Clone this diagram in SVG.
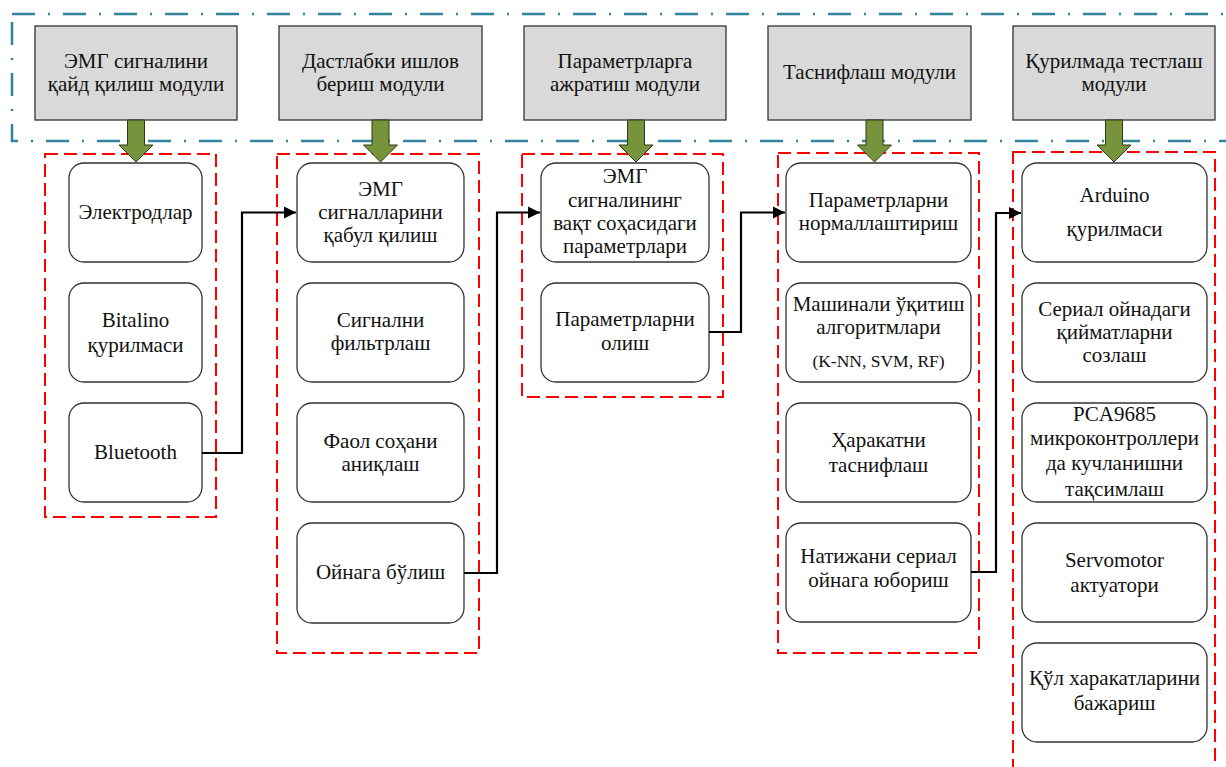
<svg xmlns="http://www.w3.org/2000/svg" width="1226" height="767" viewBox="0 0 1226 767">
<style>
text{font-family:'Liberation Serif','DejaVu Serif','Noto Serif',serif;font-size:21px;fill:#111;text-anchor:middle}
.small{font-size:17.5px}
.top rect{fill:#d9d9d9;stroke:#333;stroke-width:1.3}
.node rect{fill:#fff;stroke:#333;stroke-width:1.3}
.grp{fill:none;stroke:#ff0000;stroke-width:2;stroke-dasharray:13 6}
.arr{fill:#77933c;stroke:#2e3b17;stroke-width:1}
.conn{fill:none;stroke:#000;stroke-width:2.2}
</style>
<defs>
<marker id="ah" viewBox="0 0 10 10" refX="10" refY="5" markerWidth="5.5" markerHeight="5.5" markerUnits="strokeWidth" orient="auto">
<path d="M0,0L10,5L0,10z" fill="#000"/>
</marker>
</defs>
<rect x="0" y="0" width="1226" height="767" fill="#fff"/>
<rect x="12" y="14" width="1240" height="127" fill="none" stroke="#31849b" stroke-width="2.5" stroke-dasharray="23 13 2 13"/>

<g id="groups">
<rect class="grp" x="45" y="154" width="171" height="363"/>
<rect class="grp" x="277" y="154" width="202" height="499"/>
<rect class="grp" x="522" y="154" width="201" height="243"/>
<rect class="grp" x="778" y="153" width="201" height="500"/>
<rect class="grp" x="1013" y="152" width="202" height="640"/>
</g>

<g font-family="Liberation Serif, DejaVu Serif, serif">
<g id="top1" class="top"><rect x="35" y="26" width="202" height="94"/><text x="136" y="68">ЭМГ сигналини</text><text x="136" y="91">қайд қилиш модули</text></g>
<g id="top2" class="top"><rect x="279" y="26" width="203" height="94"/><text x="380.5" y="68">Дастлабки ишлов</text><text x="380.5" y="91">бериш модули</text></g>
<g id="top3" class="top"><rect x="524" y="26" width="202" height="94"/><text x="625" y="68">Параметрларга</text><text x="625" y="91">ажратиш модули</text></g>
<g id="top4" class="top"><rect x="768" y="26" width="203" height="94"/><text x="869.5" y="79">Таснифлаш модули</text></g>
<g id="top5" class="top"><rect x="1013" y="26" width="202" height="94"/><text x="1114" y="68">Қурилмада тестлаш</text><text x="1114" y="91">модули</text></g>

<g id="arrows">
<path class="arr" d="M127.5,120h17v25h8.5l-17,17l-17,-17h8.5z"/>
<path class="arr" d="M372,120h17v25h8.5l-17,17l-17,-17h8.5z"/>
<path class="arr" d="M627.5,120h17v25h8.5l-17,17l-17,-17h8.5z"/>
<path class="arr" d="M866,120h17v25h8.5l-17,17l-17,-17h8.5z"/>
<path class="arr" d="M1105.5,120h17v25h8.5l-17,17l-17,-17h8.5z"/>
</g>

<g id="n1a" class="node"><rect x="69" y="163" width="133" height="99" rx="15"/><text x="135.5" y="219">Электродлар</text></g>
<g id="n1b" class="node"><rect x="69" y="283" width="133" height="99" rx="15"/><text x="135.5" y="327">Bitalino</text><text x="135.5" y="352">қурилмаси</text></g>
<g id="n1c" class="node"><rect x="69" y="403" width="133" height="99" rx="15"/><text x="135.5" y="459">Bluetooth</text></g>

<g id="n2a" class="node"><rect x="297" y="163" width="167" height="99" rx="15"/><text x="380.5" y="196">ЭМГ</text><text x="380.5" y="219">сигналларини</text><text x="380.5" y="242">қабул қилиш</text></g>
<g id="n2b" class="node"><rect x="297" y="283" width="167" height="99" rx="15"/><text x="380.5" y="327">Сигнални</text><text x="380.5" y="350">фильтрлаш</text></g>
<g id="n2c" class="node"><rect x="297" y="403" width="167" height="99" rx="15"/><text x="380.5" y="448">Фаол соҳани</text><text x="380.5" y="471">аниқлаш</text></g>
<g id="n2d" class="node"><rect x="297" y="523" width="167" height="100" rx="15"/><text x="380.5" y="579">Ойнага бўлиш</text></g>

<g id="n3a" class="node"><rect x="541" y="163" width="168" height="99" rx="15"/><text x="625" y="183">ЭМГ</text><text x="625" y="207">сигналининг</text><text x="625" y="230">вақт соҳасидаги</text><text x="625" y="253">параметрлари</text></g>
<g id="n3b" class="node"><rect x="541" y="283" width="168" height="99" rx="15"/><text x="625" y="326">Параметрларни</text><text x="625" y="350">олиш</text></g>

<g id="n4a" class="node"><rect x="786" y="163" width="185" height="99" rx="15"/><text x="878.5" y="207">Параметрларни</text><text x="878.5" y="230">нормаллаштириш</text></g>
<g id="n4b" class="node"><rect x="786" y="283" width="185" height="99" rx="15"/><text x="878.5" y="311">Машинали ўқитиш</text><text x="878.5" y="334">алгоритмлари</text><text class="small" x="878.5" y="367">(K-NN, SVM, RF)</text></g>
<g id="n4c" class="node"><rect x="786" y="403" width="185" height="99" rx="15"/><text x="878.5" y="447">Ҳаракатни</text><text x="878.5" y="472">таснифлаш</text></g>
<g id="n4d" class="node"><rect x="786" y="523" width="185" height="99" rx="15"/><text x="878.5" y="563">Натижани сериал</text><text x="878.5" y="587">ойнага юбориш</text></g>

<g id="n5a" class="node"><rect x="1022" y="163" width="185" height="99" rx="15"/><text x="1114.5" y="202">Arduino</text><text x="1114.5" y="236">қурилмаси</text></g>
<g id="n5b" class="node"><rect x="1022" y="283" width="185" height="99" rx="15"/><text x="1114.5" y="316">Сериал ойнадаги</text><text x="1114.5" y="339">қийматларни</text><text x="1114.5" y="362">созлаш</text></g>
<g id="n5c" class="node"><rect x="1022" y="403" width="185" height="99" rx="15"/><text x="1114.5" y="421">PCA9685</text><text x="1114.5" y="445">микроконтроллери</text><text x="1114.5" y="470">да кучланишни</text><text x="1114.5" y="496">тақсимлаш</text></g>
<g id="n5d" class="node"><rect x="1022" y="523" width="185" height="99" rx="15"/><text x="1114.5" y="567">Servomotor</text><text x="1114.5" y="592">актуатори</text></g>
<g id="n5e" class="node"><rect x="1022" y="643" width="185" height="99" rx="15"/><text x="1114.5" y="685">Қўл харакатларини</text><text x="1114.5" y="710">бажариш</text></g>
</g>

<g id="connectors">
<path class="conn" d="M202,453H242V212.5H296" marker-end="url(#ah)"/>
<path class="conn" d="M464,573H497V212.5H540" marker-end="url(#ah)"/>
<path class="conn" d="M709,332H741V212.5H785" marker-end="url(#ah)"/>
<path class="conn" d="M971,572H996V213H1021" marker-end="url(#ah)"/>
</g>
</svg>
